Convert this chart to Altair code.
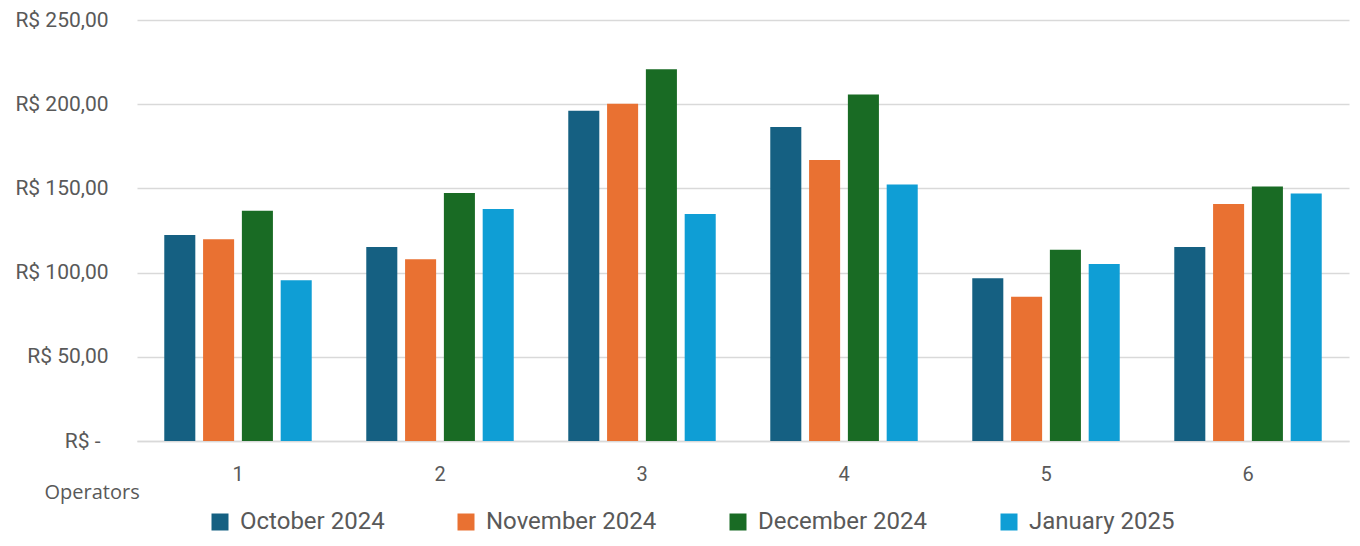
import altair as alt
import pandas as pd

operators = ["1", "2", "3", "4", "5", "6"]
months = ["October 2024", "November 2024", "December 2024", "January 2025"]
oct_2024 = [122.3, 115.2, 196.1, 186.4, 96.7, 115.2]
nov_2024 = [119.8, 108.0, 200.3, 166.8, 85.6, 140.8]
dec_2024 = [136.8, 147.3, 220.7, 205.7, 113.6, 151.1]
jan_2025 = [95.5, 137.8, 134.8, 152.3, 105.1, 146.9]
colors = ["#156082", "#E97132", "#196B24", "#0F9ED5"]

series = [oct_2024, nov_2024, dec_2024, jan_2025]
rows = []
for m, vals in zip(months, series):
    for op, v in zip(operators, vals):
        rows.append({"Operator": op, "Month": m, "Value": v})
df = pd.DataFrame(rows)

label_expr = (
    "datum.value == 0 ? 'R$ -' : "
    "'R$ ' + replace(format(datum.value, '.2f'), '.', ',')"
)

chart = (
    alt.Chart(df)
    .mark_bar()
    .encode(
        x=alt.X(
            "Operator:N",
            sort=operators,
            scale=alt.Scale(paddingInner=0.27, paddingOuter=0.135),
            axis=alt.Axis(
                title="Operators",
                titleFont="Open Sans",
                titleFontSize=20,
                titleFontWeight="normal",
                titleColor="#595959",
                titleX=-93,
                titleY=57,
                titleAlign="left",
                titleBaseline="alphabetic",
                labelAngle=0,
                labelFont="Roboto",
                labelFontSize=20,
                labelColor="#595959",
                labelPadding=23,
                ticks=False,
                domainColor="#D9D9D9",
                domainWidth=1.5,
            ),
        ),
        xOffset=alt.XOffset(
            "Month:N", sort=months, scale=alt.Scale(paddingInner=0.2, paddingOuter=0)
        ),
        y=alt.Y(
            "Value:Q",
            scale=alt.Scale(domain=[0, 250]),
            axis=alt.Axis(
                title=None,
                values=[0, 50, 100, 150, 200, 250],
                labelExpr=label_expr,
                labelFont="Roboto",
                labelFontSize=21,
                labelColor="#595959",
                labelPadding={
                    "condition": {"test": "datum.value == 0", "value": 37},
                    "value": 29,
                },
                ticks=False,
                domain=False,
                gridColor="#D9D9D9",
                gridWidth=1.5,
            ),
        ),
        color=alt.Color(
            "Month:N",
            sort=months,
            scale=alt.Scale(domain=months, range=colors),
            legend=alt.Legend(
                title=None,
                orient="none",
                direction="horizontal",
                legendX=71,
                legendY=490,
                symbolType="square",
                symbolSize=289,
                symbolStrokeWidth=0,
                labelFont="Roboto",
                labelFontSize=24,
                labelColor="#595959",
                labelOffset=8,
                labelLimit=400,
                columnPadding=69,
            ),
        ),
    )
    .properties(
        width=1212,
        height=421,
        autosize="none",
        padding={"left": 129, "top": 12, "right": 3, "bottom": 97},
    )
    .configure_view(stroke=None)
)

chart.save("out.html", embed_options={"renderer": "svg", "actions": False})
